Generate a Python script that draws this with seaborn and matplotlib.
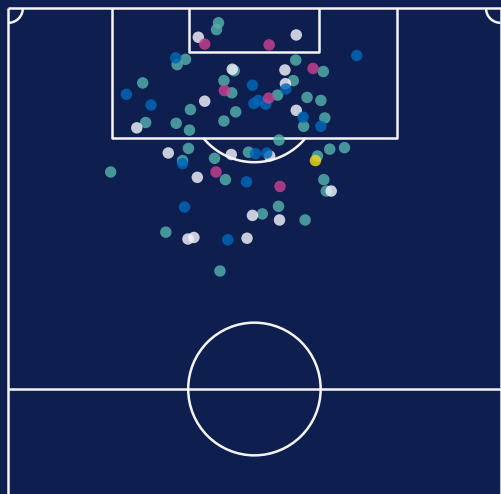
import numpy as np
import pandas as pd
import matplotlib
matplotlib.use("Agg")
import matplotlib.pyplot as plt
from matplotlib.patches import Ellipse
import seaborn as sns

# Shot locations in Opta pitch coordinates (x: length towards goal, y: width, 100 = left side)
missed_x = [98.1, 97.2, 92.6, 93.3, 90.2, 91.8, 90.5, 88.9, 93.2, 91.7, 90.5, 88.6, 88.3,
            87.9, 85.6, 84.5, 86.7, 86.4, 85.2, 84.9, 85.0, 84.0, 81.6, 80.0, 80.3, 77.5,
            78.5, 81.1, 82.7, 81.5, 81.7, 80.6, 77.5, 76.0, 70.6, 65.5, 74.0, 73.0, 72.2]
missed_y = [57.3, 57.7, 65.7, 64.0, 72.7, 54.1, 56.2, 54.6, 41.6, 36.0, 42.1, 45.3, 39.3,
            36.5, 35.7, 40.0, 63.0, 53.8, 56.2, 65.9, 72.1, 63.2, 63.4, 64.6, 58.1, 55.9,
            79.2, 51.2, 45.0, 34.7, 31.7, 37.2, 35.9, 35.4, 68.0, 57.0, 45.1, 48.4, 39.7]

blocked_x = [96.2, 92.0, 96.5, 91.9, 90.1, 87.8, 86.6, 84.3, 81.0, 80.8, 77.8, 80.6, 76.0,
             69.7, 69.9, 69.8, 72.8, 72.2]
blocked_y = [61.4, 54.5, 41.5, 43.8, 43.7, 60.1, 41.5, 73.9, 67.5, 54.7, 61.6, 46.9, 34.4,
             63.5, 62.3, 51.5, 50.4, 44.9]

saved_x = [93.5, 88.7, 87.3, 89.9, 89.4, 93.8, 87.5, 87.9, 87.4, 85.7, 84.5, 79.6, 77.2,
           80.9, 81.0, 73.9, 69.6]
saved_y = [66.0, 76.0, 71.0, 50.4, 43.6, 29.2, 50.1, 49.2, 47.7, 40.1, 36.5, 64.6, 51.6,
           49.8, 47.5, 64.2, 55.4]

goal_x = [95.3, 95.2, 92.1, 89.2, 88.2, 78.5, 76.6]
goal_y = [60.1, 47.0, 38.1, 56.1, 47.1, 57.8, 44.8]

post_x = [80.0]
post_y = [37.6]

outcomes = ["Missed", "Blocked", "Saved", "Goal", "Post"]
colors = ["#53b0ab", "#f2f3fa", "#0066b8", "#c9408f", "#f0d81a"]

frames = []
for name, xs, ys in zip(outcomes,
                        [missed_x, blocked_x, saved_x, goal_x, post_x],
                        [missed_y, blocked_y, saved_y, goal_y, post_y]):
    frames.append(pd.DataFrame({"x": xs, "y": ys, "outcome": name}))
shots = pd.concat(frames, ignore_index=True)

BG = "#0e1f4f"
LINE = "#f4f4f8"
LW = 1.8

fig = plt.figure(figsize=(5.02, 4.94), dpi=100, facecolor=BG)
ax = fig.add_axes([0, 0, 1, 1])
ax.set_facecolor(BG)

# ---- pitch markings (105 x 68 m scaled to 100 x 100) ----
sx = 100 / 105.0   # metres -> length units
sy = 100 / 68.0    # metres -> width units
line_kw = dict(color=LINE, lw=LW, zorder=1, solid_capstyle="butt")

ax.plot([0, 0], [0, 100], **line_kw)
ax.plot([100, 100], [0, 100], **line_kw)
ax.plot([0, 100], [100, 100], **line_kw)
ax.plot([0, 100], [50, 50], **line_kw)
# penalty area
ax.plot([21.1, 21.1, 78.9, 78.9], [100, 83, 83, 100], **line_kw)
# six-yard box
ax.plot([36.8, 36.8, 63.2, 63.2], [100, 94.2, 94.2, 100], **line_kw)
# centre circle
ax.add_patch(Ellipse((50, 50), 2 * 9.15 * sy, 2 * 9.15 * sx, fill=False,
                     ec=LINE, lw=LW, zorder=1))
# penalty arc
t = np.linspace(np.pi, 2 * np.pi, 400)
arc_y = 50 + 9.15 * sy * np.cos(t)
arc_x = 88.5 + 9.15 * sx * np.sin(t)
keep = arc_x <= 83
ax.plot(arc_y[keep], arc_x[keep], **line_kw)
# corner arcs
for cy, sgn in [(0, 1), (100, -1)]:
    tc = np.linspace(0, np.pi / 2, 60)
    ax.plot(cy + sgn * 2.0 * sy * np.cos(tc), 100 - 2.0 * sx * np.sin(tc), **line_kw)

# ---- shots ----
sns.scatterplot(data=shots, x="y", y="x", hue="outcome", hue_order=outcomes,
                palette=dict(zip(outcomes, colors)), s=68, alpha=0.82,
                linewidth=0, legend=False, ax=ax, zorder=3)

ax.set_xlim(101.69, -0.30)
ax.set_ylim(36.21, 101.09)
ax.set_axis_off()

fig.savefig("out.png", dpi=100, facecolor=BG)
